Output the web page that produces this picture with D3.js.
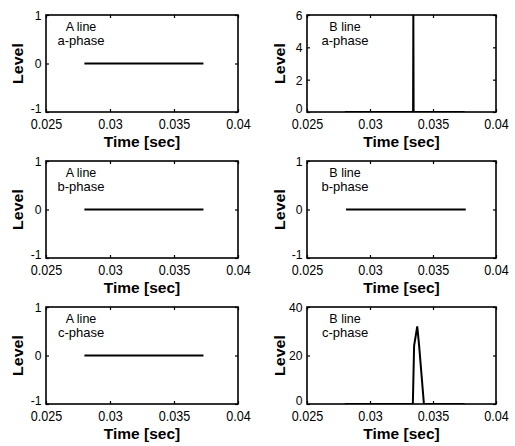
<!DOCTYPE html>
<html>
<head>
<meta charset="utf-8">
<script src="https://cdn.jsdelivr.net/npm/d3@7"></script>
<style>
  html, body { margin: 0; padding: 0; background: #fff; }
  svg { display: block; }
  text { font-family: "Liberation Sans", Arial, sans-serif; fill: #000; }
</style>
</head>
<body>
<div id="chart"></div>
<script>
// ---- data ----
const timeDomain = [0.025, 0.04];
const timeTicks = [0.025, 0.03, 0.035, 0.04];
const timeTickLabels = ["0.025", "0.03", "0.035", "0.04"];

const titlesLine = ["A line", "B line", "A line", "B line", "A line", "B line"];
const titlesPhase = ["a-phase", "a-phase", "b-phase", "b-phase", "c-phase", "c-phase"];

const yDomains = [[-1, 1], [0, 6], [-1, 1], [-1, 1], [-1, 1], [0, 40]];
const yTicks = [[-1, 0, 1], [0, 2, 4, 6], [-1, 0, 1], [-1, 0, 1], [-1, 0, 1], [0, 20, 40]];
const yTickLabels = [["-1", "0", "1"], ["0", "2", "4", "6"], ["-1", "0", "1"], ["-1", "0", "1"], ["-1", "0", "1"], ["0", "20", "40"]];

// series (time in s, level)
const aTime = [0.028, 0.0373];
const aLevelA = [0, 0];
const aLevelB = [0, 0];
const aLevelC = [0, 0];
const bTimeA = [0.028, 0.03342, 0.03344, 0.03346, 0.0375];
const bLevelA = [0, 0, 6, 0, 0];
const bTimeB = [0.0281, 0.0376];
const bLevelB = [0, 0];
const bTimeC = [0.028, 0.0334, 0.0335, 0.03375, 0.0339, 0.03428, 0.0375];
const bLevelC = [0, 0, 24, 32, 24, 0, 0];

const seriesTime = [aTime, bTimeA, aTime, bTimeB, aTime, bTimeC];
const seriesLevel = [aLevelA, bLevelA, aLevelB, bLevelB, aLevelC, bLevelC];

// ---- layout ----
const W = 515, H = 446;
const colX = [46, 307], colW = [192, 189];
const rowY = [15, 161, 307], rowH = 97;

const svg = d3.select("#chart").append("svg").attr("width", W).attr("height", H);
svg.append("rect").attr("width", W).attr("height", H).attr("fill", "#fff");

for (let i = 0; i < 6; i++) {
  const c = i % 2, r = Math.floor(i / 2);
  const x0 = colX[c], y0 = rowY[r], w = colW[c], h = rowH;
  const g = svg.append("g").attr("transform", `translate(${x0},${y0})`);
  const x = d3.scaleLinear().domain(timeDomain).range([0, w]);
  const y = d3.scaleLinear().domain(yDomains[i]).range([h, 0]);

  const clipId = "clip" + i;
  g.append("clipPath").attr("id", clipId).append("rect").attr("width", w).attr("height", h);

  const xb = g.append("g").attr("transform", `translate(0,${h})`)
    .call(d3.axisBottom(x).tickValues(timeTicks).tickFormat((d, k) => timeTickLabels[k])
      .tickSizeInner(-3).tickSizeOuter(0).tickPadding(7));
  const xt = g.append("g")
    .call(d3.axisTop(x).tickValues(timeTicks).tickFormat("").tickSizeInner(-3).tickSizeOuter(0));
  const yl = g.append("g")
    .call(d3.axisLeft(y).tickValues(yTicks[i]).tickFormat((d, k) => yTickLabels[i][k])
      .tickSizeInner(-3).tickSizeOuter(0).tickPadding(5));
  const yr = g.append("g").attr("transform", `translate(${w},0)`)
    .call(d3.axisRight(y).tickValues(yTicks[i]).tickFormat("").tickSizeInner(-3).tickSizeOuter(0));

  [xb, xt, yl, yr].forEach(a => {
    a.select(".domain").remove();
    a.selectAll(".tick line").attr("stroke", "#000").attr("stroke-width", 1.2);
  });
  xb.selectAll(".tick text").style("font-size", "14px").attr("fill", "#000")
    .attr("transform", "scale(0.9,1)");
  yl.selectAll(".tick text").style("font-size", "13.5px").attr("fill", "#000")
    .attr("transform", "scale(0.9,1)");
  // lowest y tick label sits slightly above its tick, as in the reference
  yl.selectAll(".tick text").filter((d, k) => k === 0).attr("dy", "0.05em");

  g.append("rect").attr("width", w).attr("height", h)
    .attr("fill", "none").attr("stroke", "#000").attr("stroke-width", 1.6);

  const pts = seriesTime[i].map((t, k) => [t, seriesLevel[i][k]]);
  g.append("path").datum(pts)
    .attr("clip-path", `url(#${clipId})`)
    .attr("fill", "none").attr("stroke", "#000").attr("stroke-width", 2)
    .attr("stroke-linejoin", "miter")
    .attr("d", d3.line().x(d => x(d[0])).y(d => y(d[1])));

  const tx = c === 0 ? 35 : 38;
  g.append("text").attr("x", tx).attr("y", 16).attr("text-anchor", "middle")
    .style("font-size", "12.5px").text(titlesLine[i]);
  g.append("text").attr("x", tx).attr("y", 30).attr("text-anchor", "middle")
    .style("font-size", "13px").text(titlesPhase[i]);

  g.append("text").attr("x", w / 2).attr("y", h + 35).attr("text-anchor", "middle")
    .style("font-size", "15.5px").style("font-weight", "bold").style("white-space", "pre")
    .text("Time [sec]");
  const lx = c === 0 ? -28 : -27;
  g.append("text").attr("transform", `translate(${lx},${h / 2}) rotate(-90) scale(1,0.9)`)
    .attr("text-anchor", "middle").attr("dy", "0.35em")
    .style("font-size", "16px").style("font-weight", "bold").text("Level");
}
</script>
</body>
</html>
